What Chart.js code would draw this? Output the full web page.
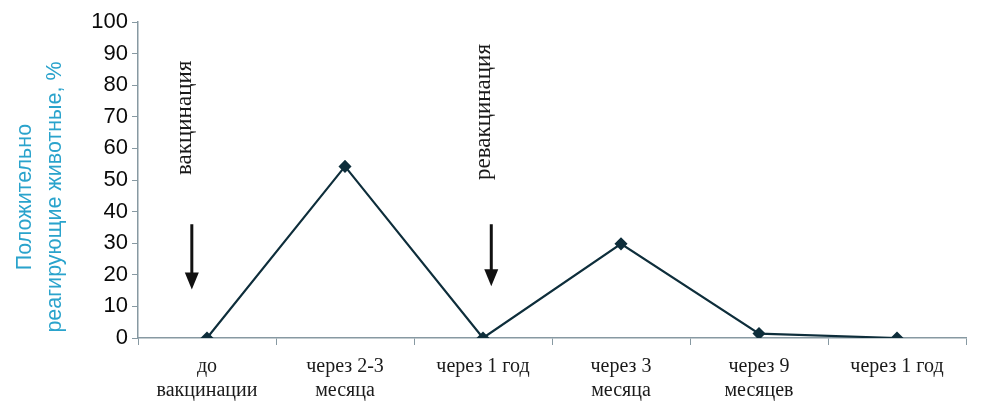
<!DOCTYPE html>
<html><head><meta charset="utf-8">
<script src="https://cdn.jsdelivr.net/npm/chart.js@4"></script>
<style>html,body{margin:0;padding:0;background:#fff}#wrap{width:991px;height:410px}</style>
</head><body><div id="wrap"><canvas id="c" width="991" height="410"></canvas></div>
<script>
const categories = [["до","вакцинации"],["через 2-3","месяца"],"через 1 год",["через 3","месяца"],["через 9","месяцев"],"через 1 год"];
const values = [0, 54.3, 0, 29.8, 1.4, 0];
const yTicks = [0,10,20,30,40,50,60,70,80,90,100];
const yTitle = ["Положительно", "реагирующие животные, %"];
const annotations = [
  {text:"вакцинация", index:0, shift:-0.11, textAt:51.6, from:36, to:16},
  {text:"ревакцинация", index:2, shift:0.06, textAt:50, from:36, to:17}
];
const axisColor = "#8799a2";
const lineColor = "#0e2e3b";

const overlay = {
  id:"overlay",
  afterDatasetsDraw(chart){
    const ctx = chart.ctx, xs = chart.scales.x, ys = chart.scales.y;
    const cw = xs.getPixelForValue(1) - xs.getPixelForValue(0);
    ctx.save();
    annotations.forEach(a=>{
      const x = xs.getPixelForValue(a.index) + a.shift*cw;
      const y1 = ys.getPixelForValue(a.from), y2 = ys.getPixelForValue(a.to);
      ctx.strokeStyle = "#111"; ctx.fillStyle="#111"; ctx.lineWidth = 3;
      ctx.beginPath(); ctx.moveTo(x, y1); ctx.lineTo(x, y2-12); ctx.stroke();
      ctx.beginPath(); ctx.moveTo(x-7, y2-15); ctx.lineTo(x+7, y2-15); ctx.lineTo(x, y2+2); ctx.closePath(); ctx.fill();
      ctx.save();
      ctx.translate(x-7, ys.getPixelForValue(a.textAt));
      ctx.rotate(-Math.PI/2);
      ctx.font = "23px 'Liberation Serif', serif";
      ctx.fillStyle = "#1a1a1a";
      ctx.textAlign = "left"; ctx.textBaseline = "middle";
      ctx.fillText(a.text, 0, 0);
      ctx.restore();
    });
    ctx.save();
    ctx.translate(40, (ys.top+ys.bottom)/2 + 17);
    ctx.rotate(-Math.PI/2);
    ctx.font = "21.5px 'Liberation Sans', Arial, sans-serif";
    ctx.fillStyle = "#2aa3cc";
    ctx.textAlign = "center"; ctx.textBaseline = "middle";
    ctx.fillText(yTitle[0], 0, -15);
    ctx.fillText(yTitle[1], 0, 15);
    ctx.restore();
    ctx.restore();
  }
};

new Chart(document.getElementById("c"), {
  type:"line",
  data:{labels:categories, datasets:[{data:values, borderColor:lineColor, backgroundColor:lineColor, borderWidth:2.2,
    pointStyle:"rectRot", pointRadius:5, pointBackgroundColor:lineColor, pointBorderColor:lineColor, tension:0}]},
  options:{
    responsive:false, animation:false, devicePixelRatio:1,
    layout:{padding:{left:0, right:25, top:22, bottom:0}},
    plugins:{legend:{display:false}, tooltip:{enabled:false}},
    scales:{
      x:{offset:true,
        grid:{offset:true, drawOnChartArea:false, drawTicks:true, tickLength:7, color:axisColor},
        border:{color:axisColor, width:1.5},
        ticks:{color:"#1a1a1a", font:{family:"'Liberation Serif', serif", size:20, lineHeight:1.2}, padding:10, maxRotation:0, autoSkip:false},
        afterFit(s){ s.height = 72; }
      },
      y:{min:0, max:100,
        afterBuildTicks(s){ s.ticks = yTicks.map(v=>({value:v})); },
        grid:{drawOnChartArea:false, drawTicks:true, tickLength:6, color:axisColor},
        border:{color:axisColor, width:1.5},
        ticks:{color:"#0a0a0a", font:{family:"'Liberation Sans', Arial, sans-serif", size:22}, padding:4},
        afterFit(s){ s.width = 138; }
      }
    }
  },
  plugins:[overlay]
});
</script></body></html>
